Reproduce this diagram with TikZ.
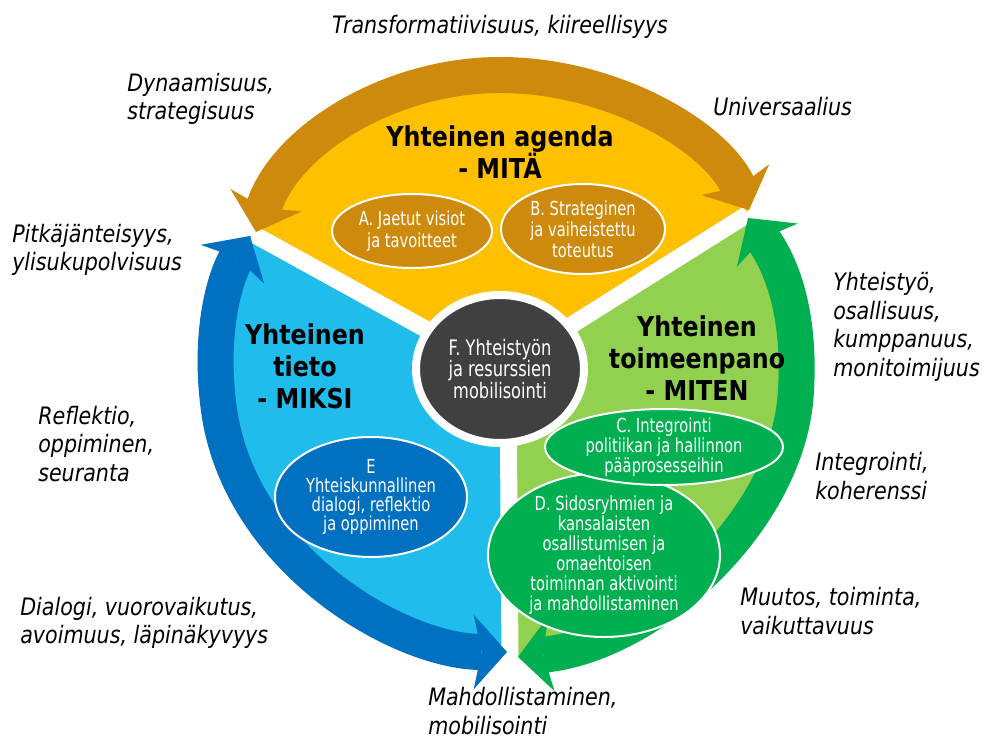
\documentclass[tikz,border=0pt]{standalone}
\usepackage{fontspec}
\usetikzlibrary{arrows.meta,shapes.geometric}
\newfontfamily\labfont[FakeStretch=0.86]{DejaVu Sans Oblique}
\newfontfamily\titlefont[FakeStretch=0.87]{DejaVu Sans Bold}
\newfontfamily\ellfont[FakeStretch=0.76]{DejaVu Sans}
\definecolor{orA}{RGB}{205,138,12}
\definecolor{yel}{RGB}{255,192,0}
\definecolor{blA}{RGB}{0,112,192}
\definecolor{lbl}{RGB}{32,188,236}
\definecolor{grA}{RGB}{0,176,80}
\definecolor{lgr}{RGB}{146,208,80}
\definecolor{dk}{RGB}{64,64,64}
\begin{document}
\begin{tikzpicture}[x=0.75pt,y=-0.75pt,
  band/.style={line width=27pt, {Stealth[length=25pt,width=56pt,inset=6pt,line width=0pt]}-{Stealth[length=25pt,width=56pt,inset=6pt,line width=0pt]}},
  gap/.style={draw=white, line width=12.75pt},
  oval/.style={ellipse, draw=white, line width=1.5pt, text=white, font=\ellfont\fontsize{14.5}{15}\selectfont, align=center, inner xsep=0pt, inner ysep=-8pt},
  ttl/.style={font=\titlefont\fontsize{20.5}{24}\selectfont, align=center, inner sep=0pt},
  lab/.style={font=\labfont\fontsize{18}{21.4}\selectfont, align=left, anchor=west, inner sep=0pt}
]
\useasboundingbox (0,0) rectangle (984,742);
\coordinate (C0) at (500,370);
\coordinate (P1o) at (256,232);
\coordinate (P1b) at (250,236);
\coordinate (P2o) at (749,210);
\coordinate (P2g) at (748,218);
\coordinate (P3b) at (507,652);
\coordinate (P3g) at (518,657);
\coordinate (G1) at (253,234);
\coordinate (G2) at (748,214);
\coordinate (G3t) at (508,370);
\coordinate (G3) at (510,662);
% sector fills
\fill[yel] (C0) -- (P1o) .. controls (285,140) and (390,75) .. (500,75) .. controls (610,75) and (715,135) .. (P2o) -- cycle;
\fill[lbl] (C0) -- (P1b) .. controls (226,275) and (208,330) .. (219,410) .. controls (240,560) and (400,652) .. (P3b) -- cycle;
\fill[lgr] (C0) -- (P3g) .. controls (650,645) and (790,520) .. (796,390) .. controls (800,320) and (785,270) .. (P2g) -- cycle;
% white gaps
\draw[gap] (C0) -- (G1);
\draw[gap] (C0) -- (G2);
\draw[gap] (G3t) -- (G3);
% arrows
\draw[band, orA] (P1o) .. controls (285,140) and (390,75) .. (500,75) .. controls (610,75) and (715,135) .. (P2o);
\draw[band, blA] (P3b) .. controls (400,652) and (240,560) .. (219,410) .. controls (208,330) and (226,275) .. (P1b);
\draw[band, grA] (P2g) .. controls (785,270) and (800,320) .. (796,390) .. controls (790,520) and (650,645) .. (P3g);
% ellipses
\node[oval, fill=orA, minimum width=120pt, minimum height=55.5pt, font=\ellfont\fontsize{14.5}{16.5}\selectfont] (A) at (412,231) {A. Jaetut visiot\\ja tavoitteet};
\node[oval, fill=orA, minimum width=123pt, minimum height=67.5pt, font=\ellfont\fontsize{14.5}{15.8}\selectfont] (B) at (583,229) {B. Strateginen\\ja vaiheistettu\\toteutus};
\node[oval, fill=blA, minimum width=144pt, minimum height=90pt, font=\ellfont\fontsize{14.5}{14.2}\selectfont] (E) at (371,497) {E\\Yhteiskunnallinen\\dialogi, reflektio\\ja oppiminen};
\node[oval, fill=grA, minimum width=174pt, minimum height=123pt] (D) at (604,555) {D. Sidosryhmien ja\\kansalaisten\\osallistumisen ja\\omaehtoisen\\toiminnan aktivointi\\ja mahdollistaminen};
\node[oval, fill=grA, minimum width=178.5pt, minimum height=57pt] (Cc) at (664,447) {C. Integrointi\\politiikan ja hallinnon\\pääprosesseihin};
\node[ellipse, fill=dk, draw=white, line width=6pt, minimum width=126pt, minimum height=111pt, text=white, font=\ellfont\fontsize{16}{16.2}\selectfont, align=center, inner sep=0pt] (F) at (500,369) {F. Yhteistyön\\ja resurssien\\mobilisointi};
% titles
\node[ttl] (tA) at (500,152) {Yhteinen agenda\\- MITÄ};
\node[ttl] (tB) at (305,366) {Yhteinen\\tieto\\- MIKSI};
\node[ttl] (tG) at (697,358) {Yhteinen\\toimeenpano\\- MITEN};
% labels
\node[lab, anchor=center] (l1) at (500,27) {Transformatiivisuus, kiireellisyys};
\node[lab] (l2) at (127,99) {Dynaamisuus,\\strategisuus};
\node[lab] (l3) at (713,107) {Universaalius};
\node[lab] (l4) at (12,250) {Pitkäjänteisyys,\\ylisukupolvisuus};
\node[lab] (l5) at (833,327) {Yhteistyö,\\osallisuus,\\kumppanuus,\\monitoimijuus};
\node[lab] (l6) at (38,444) {Reflektio,\\oppiminen,\\seuranta};
\node[lab] (l7) at (815,476) {Integrointi,\\koherenssi};
\node[lab] (l8) at (20,623) {Dialogi, vuorovaikutus,\\avoimuus, läpinäkyvyys};
\node[lab] (l9) at (740,611) {Muutos, toiminta,\\vaikuttavuus};
\node[lab] (l10) at (428,711) {Mahdollistaminen,\\mobilisointi};
\end{tikzpicture}
\end{document}
